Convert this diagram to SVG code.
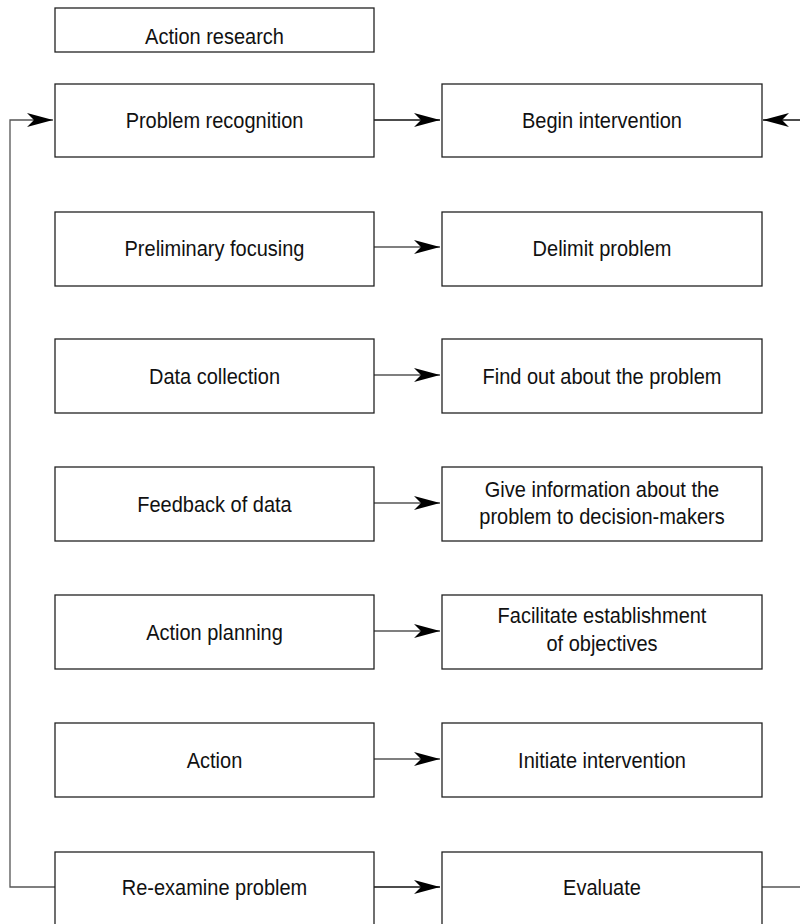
<svg xmlns="http://www.w3.org/2000/svg" width="800" height="924" viewBox="0 0 800 924">
<style>
.box{fill:#fff;stroke:#222;stroke-width:1.3}
.t{font-family:"Liberation Sans",Arial,sans-serif;font-size:21.5px;fill:#111;text-anchor:middle;dominant-baseline:central}
.dk{fill:none;stroke:#111;stroke-width:1.6}
.lt{fill:none;stroke:#555;stroke-width:1.3}
</style>
<defs>
<marker id="ah" markerUnits="userSpaceOnUse" markerWidth="26" markerHeight="14" viewBox="0 0 26 14" refX="26" refY="7" orient="auto">
<path d="M0,0 L26,7 L0,14 L7,7 z" fill="#000"/>
</marker>
</defs>
<rect width="800" height="924" fill="#fff"/>
<g id="connectors">
<path class="dk" d="M374,120 H440" marker-end="url(#ah)"/>
<path class="dk" d="M800,120 H763" marker-end="url(#ah)"/>
<path class="lt" d="M374,247 H440" marker-end="url(#ah)"/>
<path class="lt" d="M374,375 H440" marker-end="url(#ah)"/>
<path class="lt" d="M374,503 H440" marker-end="url(#ah)"/>
<path class="lt" d="M374,631 H440" marker-end="url(#ah)"/>
<path class="lt" d="M374,759 H440" marker-end="url(#ah)"/>
<path class="dk" d="M374,887 H440" marker-end="url(#ah)"/>
<path class="lt" d="M762,887 H800"/>
<path class="lt" d="M55,887 H10 V120 H53" marker-end="url(#ah)"/>
</g>
<g id="n0"><rect class="box" x="55" y="8" width="319" height="44"/><text class="t" transform="translate(214.5,36) scale(0.93,1)">Action research</text></g>
<g id="n1"><rect class="box" x="55" y="84" width="319" height="73"/><text class="t" transform="translate(214.5,120) scale(0.93,1)">Problem recognition</text></g>
<g id="n2"><rect class="box" x="442" y="84" width="320" height="73"/><text class="t" transform="translate(602,120) scale(0.93,1)">Begin intervention</text></g>
<g id="n3"><rect class="box" x="55" y="212" width="319" height="74"/><text class="t" transform="translate(214.5,248) scale(0.93,1)">Preliminary focusing</text></g>
<g id="n4"><rect class="box" x="442" y="212" width="320" height="74"/><text class="t" transform="translate(602,248) scale(0.93,1)">Delimit problem</text></g>
<g id="n5"><rect class="box" x="55" y="339" width="319" height="74"/><text class="t" transform="translate(214.5,376) scale(0.93,1)">Data collection</text></g>
<g id="n6"><rect class="box" x="442" y="339" width="320" height="74"/><text class="t" transform="translate(602,376) scale(0.93,1)">Find out about the problem</text></g>
<g id="n7"><rect class="box" x="55" y="467" width="319" height="74"/><text class="t" transform="translate(214.5,504) scale(0.93,1)">Feedback of data</text></g>
<g id="n8"><rect class="box" x="442" y="467" width="320" height="74"/><text class="t" transform="translate(602,489) scale(0.93,1)">Give information about the</text><text class="t" transform="translate(602,516) scale(0.93,1)">problem to decision-makers</text></g>
<g id="n9"><rect class="box" x="55" y="595" width="319" height="74"/><text class="t" transform="translate(214.5,632) scale(0.93,1)">Action planning</text></g>
<g id="n10"><rect class="box" x="442" y="595" width="320" height="74"/><text class="t" transform="translate(602,615) scale(0.93,1)">Facilitate establishment</text><text class="t" transform="translate(602,643) scale(0.93,1)">of objectives</text></g>
<g id="n11"><rect class="box" x="55" y="723" width="319" height="74"/><text class="t" transform="translate(214.5,760) scale(0.93,1)">Action</text></g>
<g id="n12"><rect class="box" x="442" y="723" width="320" height="74"/><text class="t" transform="translate(602,760) scale(0.93,1)">Initiate intervention</text></g>
<g id="n13"><rect class="box" x="55" y="852" width="319" height="80"/><text class="t" transform="translate(214.5,887) scale(0.93,1)">Re-examine problem</text></g>
<g id="n14"><rect class="box" x="442" y="852" width="320" height="80"/><text class="t" transform="translate(602,887) scale(0.93,1)">Evaluate</text></g>
</svg>
